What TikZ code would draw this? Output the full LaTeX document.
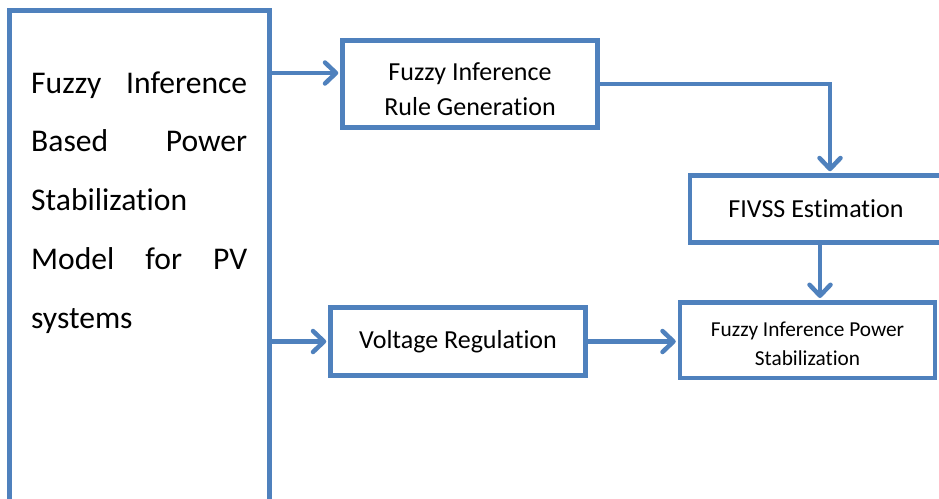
\documentclass[tikz,border=0pt]{standalone}
\usepackage{fontspec}
\setmainfont{Carlito}[Ligatures={NoCommon}]
\usetikzlibrary{arrows.meta,calc}
\definecolor{ofblue}{HTML}{4F81BD}
\begin{document}
\begin{tikzpicture}[x=1pt,y=-1pt,
  box/.style={draw=ofblue,line width=4.5pt,inner sep=0pt,align=center,font=\fontsize{26}{35}\selectfont},
  arr/.style={draw=ofblue,line width=4.5pt,shorten >=2pt,-{Straight Barb[length=11pt,width=21pt,round]}}]
\useasboundingbox (0,0) rectangle (939,498);
\clip (0,0) rectangle (939,498);
\fill[white] (0,0) rectangle (939,498);
\node[box,minimum width=260pt,minimum height=510pt] (L) at (139.5,265.5) {};
\node[anchor=base west,text width=216pt,inner sep=0pt,align=left,font=\fontsize{31.6}{58.75}\selectfont] (Lt) at (31,93) {Fuzzy\hfill Inference\\Based\hfill Power\\Stabilization\\Model\hfill for\hfill PV\\systems};
\node[box,minimum width=255pt,minimum height=87pt] (rg) at (470,84) {\rule{0pt}{29pt}Fuzzy Inference\\Rule Generation};
\node[box,minimum width=252pt,minimum height=67pt] (fv) at (816,209) {FIVSS Estimation};
\node[box,minimum width=255pt,minimum height=68pt] (vr) at (458,341.5) {Voltage Regulation};
\node[box,minimum width=255pt,minimum height=75.5pt,font=\fontsize{21.3}{29}\selectfont] (fp) at (807.5,340) {\rule{0pt}{22pt}Fuzzy Inference Power\\Stabilization};
\coordinate (a1) at ($(rg.west)+(0,-11)$);
\coordinate (k1) at ($(fv.north)+(14,0)$);
\coordinate (k2) at ($(fv.south)+(4,0)$);
\draw[arr] (L.east |- a1) -- (a1);
\draw[arr] (L.east |- vr.west) -- (vr.west);
\draw[arr] (vr.east) -- (vr.east -| fp.west);
\draw[arr] (rg.east) -| (k1);
\draw[arr] (k2) -- (k2 |- fp.north);
\end{tikzpicture}
\end{document}
